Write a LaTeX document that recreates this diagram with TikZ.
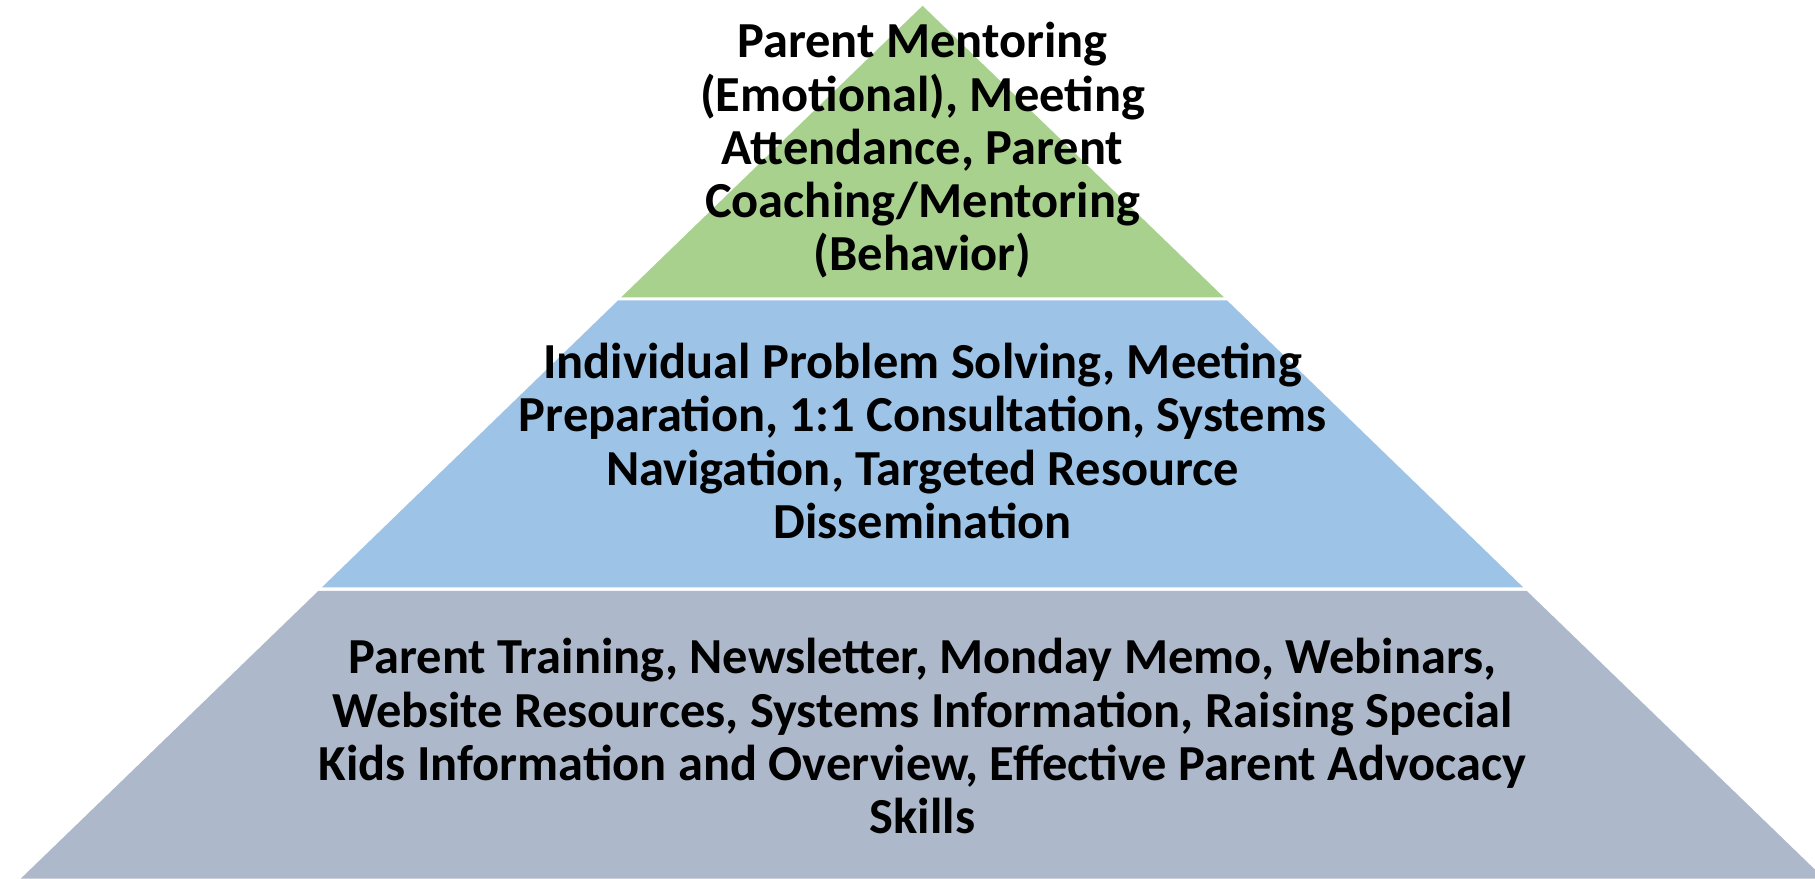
\documentclass[tikz,border=0pt]{standalone}
\usepackage{fontspec}
\setmainfont{Carlito}
\usepackage{tikz}
\usetikzlibrary{positioning}
\definecolor{tgreen}{HTML}{A9D18E}
\definecolor{tblue}{HTML}{9DC3E6}
\definecolor{tgray}{HTML}{ADB9CA}
\tikzstyle{tiertext}=[align=center, text=black, inner sep=0pt, font=\fontsize{24.8}{26.2}\selectfont\bfseries]

\begin{document}
\begin{tikzpicture}
            \useasboundingbox (0,0) rectangle (31.36,15.18);
            \clip (0,0) rectangle (31.36,15.18);

            \fill [tgreen] (15.94,15.08) -- (21.15,10.04) -- (10.73,10.04) -- cycle;
            \fill [tblue] (10.68,9.99) -- (21.20,9.99) -- (26.32,5.03) -- (5.56,5.03) -- cycle;
            \fill [tgray] (5.50,4.97) -- (26.38,4.97) -- (31.52,0) -- (0.36,0) -- cycle;

            \node [style=tiertext] (tier3) at (15.94,12.58) {Parent Mentoring\\(Emotional), Meeting\\Attendance, Parent\\Coaching/Mentoring\\(Behavior)};
            \node [style=tiertext] (tier2) at (15.94,7.56) {Individual Problem Solving, Meeting\\Preparation, 1:1 Consultation, Systems\\Navigation, Targeted Resource\\Dissemination};
            \node [style=tiertext] (tier1) at (15.94,2.46) {Parent Training, Newsletter, Monday Memo, Webinars,\\Website Resources, Systems Information, Raising Special\\Kids Information and Overview, Effective Parent Advocacy\\Skills};
        \end{tikzpicture}
\end{document}
